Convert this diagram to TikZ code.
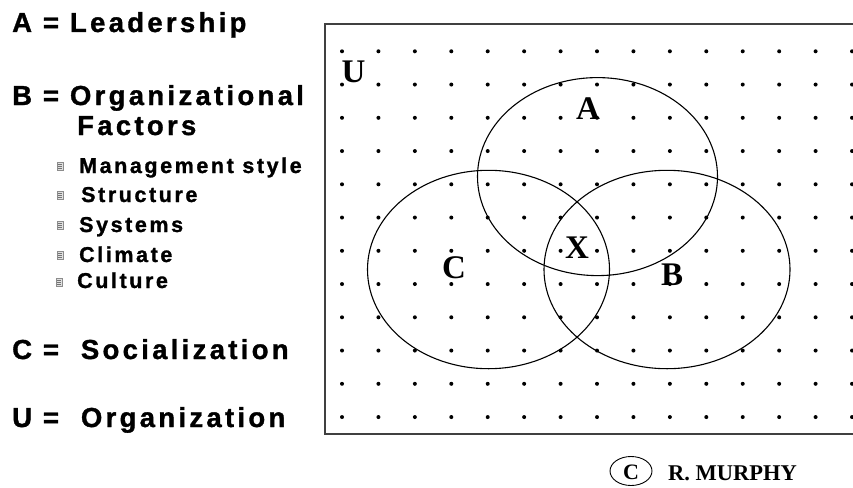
\documentclass[tikz,border=0pt]{standalone}
\usepackage{fontspec}
\newfontfamily\sansb[LetterSpace=12,FakeBold=1.2]{Liberation Sans Bold}
\newfontfamily\sansi[LetterSpace=12,FakeBold=1.2]{Liberation Sans Bold}
\newfontfamily\serifb{Liberation Serif Bold}
\begin{document}
\begin{tikzpicture}[x=1pt,y=-1pt,
  legend/.style={inner sep=0pt,anchor=base west,font=\sansb\fontsize{27.5}{30}\selectfont},
  item/.style={inner sep=0pt,anchor=base west,font=\sansi\fontsize{21.5}{24}\selectfont},
  setlabel/.style={inner sep=0pt,anchor=base,font=\serifb\fontsize{33}{36}\selectfont},
  setcircle/.style={draw=black,line width=1.1pt},
  frame/.style={draw=black!75,line width=1.5pt},
  bulletbox/.style={draw=black!45,fill=black!12,line width=0.5pt,minimum width=6pt,minimum height=7.5pt,inner sep=0pt},
  dot/.style={fill=black}]
\useasboundingbox (0,0) rectangle (853,487);
% legend text
\node[legend] (la) at (12,32) {A = Leadership};
\node[legend] (lb) at (12,105) {B = Organizational};
\node[legend] (lf) at (77,135) {Factors};
\node[item] (i1) at (79,173) {Management style};
\node[item] (i2) at (81,202) {Structure};
\node[item] (i3) at (79,232) {Systems};
\node[item] (i4) at (79,262) {Climate};
\node[item] (i5) at (77,288) {Culture};
\foreach \n/\yy/\xx in {1/166/60,2/195/60,3/225/60,4/255/60,5/282/59}{
  \node[bulletbox] (b\n) at (\xx,\yy) {};
  \foreach \f in {-1.8,0,1.8}{\draw[black!55,line width=0.5pt] ([xshift=1.2pt,yshift=\f pt]b\n.west) -- ([xshift=-1.2pt,yshift=\f pt]b\n.east);}
}
\node[legend] (lc) at (12,359) {C =\ \ Socialization};
\node[legend] (lu) at (12,427) {U =\ \ Organization};
% frame (open on the right)
\coordinate (ftr) at (853,24);
\coordinate (ftl) at (325,24);
\coordinate (fbl) at (325,434);
\coordinate (fbr) at (853,434);
\draw[frame] (ftr) -- (ftl) -- (fbl) -- (fbr);
% dots
\foreach \i in {0,...,14}{
  \foreach \j in {0,...,11}{
    \fill[dot] ({342+\i*36.43},{51.3+\j*33.25}) circle (2);
  }
}
% sets
\draw[setcircle] (597.5,176.6) ellipse [x radius=120, y radius=99];
\draw[setcircle] (488.5,269.5) ellipse [x radius=121, y radius=99.2];
\draw[setcircle] (667,269.5) ellipse [x radius=123, y radius=99.2];
% labels
\node[setlabel] (u) at (353.5,82) {U};
\node[setlabel] (a) at (588,119) {A};
\node[setlabel] (x) at (577,258) {X};
\node[setlabel] (c) at (454,278) {C};
\node[setlabel] (b) at (672,285) {B};
% copyright
\node[inner sep=0pt,anchor=base,font=\serifb\fontsize{22}{26}\selectfont] (cc) at (631,479) {C};
\draw[line width=0.9pt] (631,471) ellipse [x radius=21, y radius=14.5];
\node[inner sep=0pt,anchor=base west,font=\serifb\fontsize{22.5}{26}\selectfont] (rm) at (668,480) {R. MURPHY};
\end{tikzpicture}
\end{document}
